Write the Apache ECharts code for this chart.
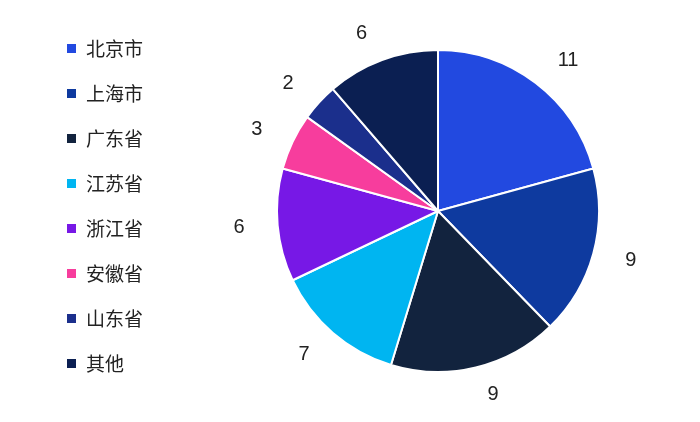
<!DOCTYPE html>
<html>
<head>
<meta charset="utf-8">
<script src="https://cdn.jsdelivr.net/npm/echarts@6/dist/echarts.min.js"></script>
<style>html,body{margin:0;background:#fff}#main{width:700px;height:422px}</style>
</head>
<body>
<div id="main"></div>
<script>
const regions = ['北京市', '上海市', '广东省', '江苏省', '浙江省', '安徽省', '山东省', '其他'];
const counts = [11, 9, 9, 7, 6, 3, 2, 6];
const colors = ['#2249e0', '#0e3a9f', '#12233e', '#00b5f1', '#7718e6', '#f73d9d', '#1b2f8c', '#0b1f52'];

const chart = echarts.init(document.getElementById('main'));
chart.setOption({
  color: colors,
  legend: {
    orient: 'vertical',
    left: 60,
    top: 34,
    itemWidth: 11,
    itemHeight: 11,
    itemGap: 26,
    icon: 'rect',
    textStyle: {fontSize: 19, color: '#222', fontFamily: 'Noto Sans CJK SC', padding: [0, 0, 0, 4]}
  },
  series: [{
    type: 'pie',
    center: [438, 211],
    radius: 161,
    startAngle: 90,
    clockwise: true,
    itemStyle: {borderColor: '#fff', borderWidth: 2},
    label: {position: 'outside', fontSize: 20, color: '#222', formatter: '{c}'},
    labelLine: {show: false, length: 28, length2: 0},
    emphasis: {disabled: true},
    data: regions.map((r, i) => ({name: r, value: counts[i]}))
  }]
});
</script>
</body>
</html>
